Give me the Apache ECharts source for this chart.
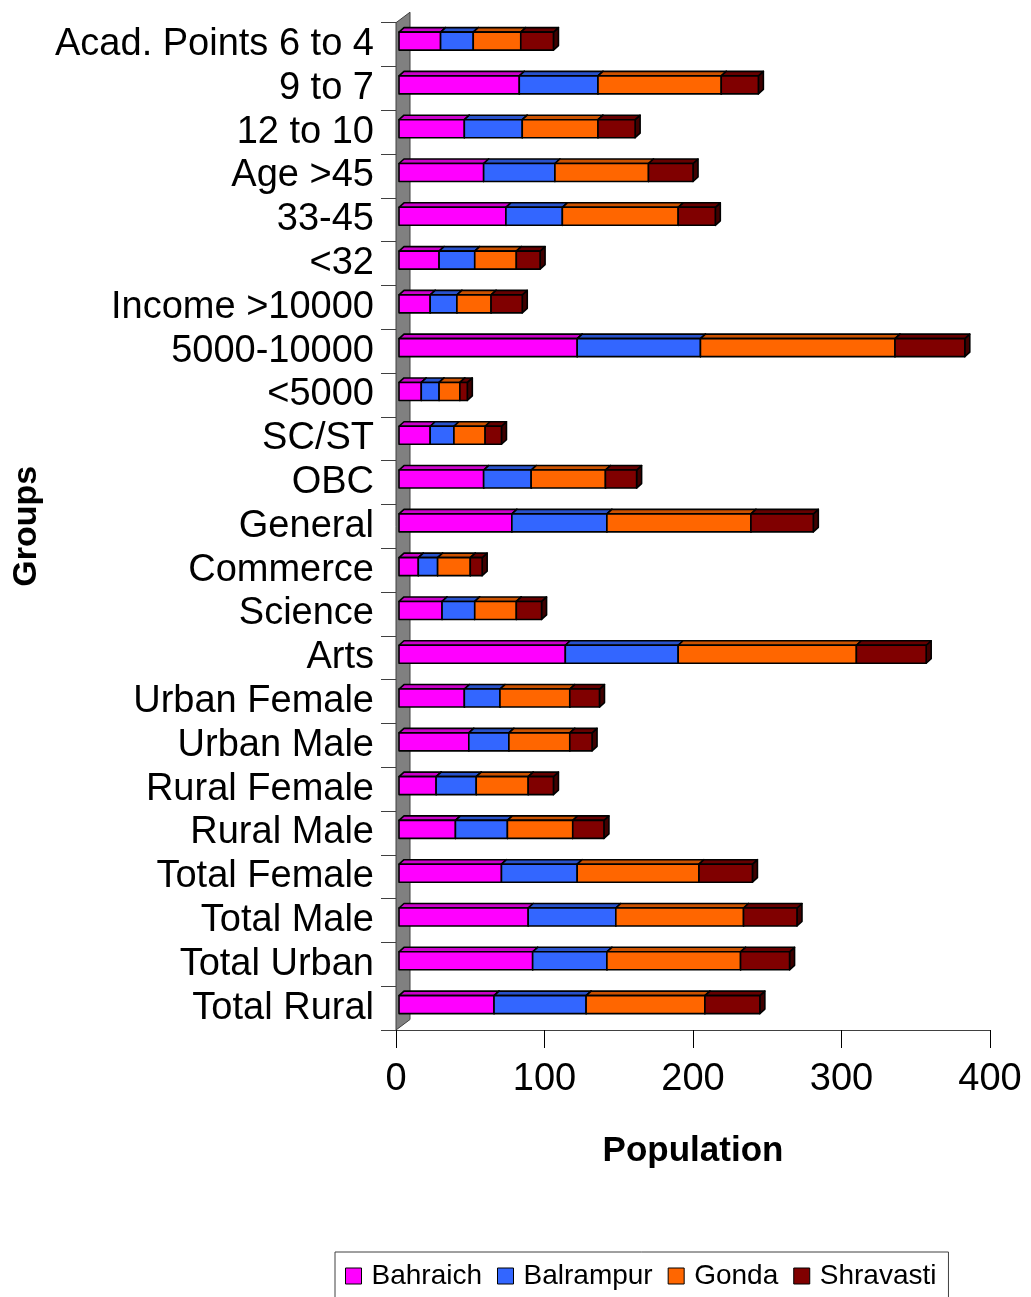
<!DOCTYPE html>
<html>
<head>
<meta charset="utf-8">
<script src="https://cdn.jsdelivr.net/npm/echarts@6/dist/echarts.min.js"></script>
<style>
  html, body { margin: 0; padding: 0; background: #fff; }
  #chart { width: 1031px; height: 1297px; }
</style>
</head>
<body>
<div id="chart"></div>
<script>
// Groups, listed top to bottom
const categories = [
  'Acad. Points 6 to 4', '9 to 7', '12 to 10',
  'Age >45', '33-45', '<32',
  'Income >10000', '5000-10000', '<5000',
  'SC/ST', 'OBC', 'General',
  'Commerce', 'Science', 'Arts',
  'Urban Female', 'Urban Male', 'Rural Female', 'Rural Male',
  'Total Female', 'Total Male', 'Total Urban', 'Total Rural'
];

// Population per district, same order as categories
const bahraich  = [28, 81, 44, 57, 72, 27, 21, 120, 15, 21, 57, 76, 13, 29, 112, 44, 47, 25, 38, 69, 87, 90, 64];
const balrampur = [22, 53, 39, 48, 38, 24, 18,  83, 12, 16, 32, 64, 13, 22,  76, 24, 27, 27, 35, 51, 59, 50, 62];
const gonda     = [32, 83, 51, 63, 78, 28, 23, 131, 14, 21, 50, 97, 22, 28, 120, 47, 41, 35, 44, 82, 86, 90, 80];
const shravasti = [22, 25, 25, 30, 25, 16, 21,  47,  5, 11, 21, 42,  8, 17,  47, 20, 15, 17, 21, 36, 36, 33, 37];

const seriesNames = ['Bahraich', 'Balrampur', 'Gonda', 'Shravasti'];
const seriesValues = [bahraich, balrampur, gonda, shravasti];

// front / top / side face colours of each district's box
const faceColors = [
  { front: '#FF00FF', top: '#CC00CC', side: '#990099' },
  { front: '#3366FF', top: '#2952CC', side: '#1F3D99' },
  { front: '#FF6600', top: '#CC5200', side: '#993D00' },
  { front: '#800000', top: '#660000', side: '#400000' }
];

const xTicks = [0, 100, 200, 300, 400];

// pseudo-3D box geometry (pixels)
const BOX_H = 18;      // height of the front face
const FRONT_DX = 3;    // front face offset from the floor axis
const SHIFT_Y = -3.5;  // front face offset from the band centre
const DEPTH_X = 5;     // depth of the box
const DEPTH_Y = -4.5;
const WALL_DX = 14, WALL_DY = -10.5;

const font = "'Liberation Sans', Arial, sans-serif";

// stacked segments: [categoryIndex, start, end]
function stackedData(k) {
  return categories.map((c, i) => {
    let start = 0;
    for (let j = 0; j < k; j++) start += seriesValues[j][i];
    return [i, start, start + seriesValues[k][i]];
  });
}

function makeBoxRenderer(colors) {
  return function (params, api) {
    const cat = api.value(0);
    const p0 = api.coord([api.value(1), cat]);
    const p1 = api.coord([api.value(2), cat]);
    const x0 = p0[0] + FRONT_DX, x1 = p1[0] + FRONT_DX;
    const yc = p0[1] + SHIFT_Y;
    const yt = yc - BOX_H / 2, yb = yc + BOX_H / 2;
    const line = { stroke: '#000', lineWidth: 1.6, lineJoin: 'round' };
    return {
      type: 'group',
      children: [
        { type: 'polygon',
          shape: { points: [[x1, yt], [x1 + DEPTH_X, yt + DEPTH_Y], [x1 + DEPTH_X, yb + DEPTH_Y], [x1, yb]] },
          style: Object.assign({ fill: colors.side }, line) },
        { type: 'polygon',
          shape: { points: [[x0, yt], [x0 + DEPTH_X, yt + DEPTH_Y], [x1 + DEPTH_X, yt + DEPTH_Y], [x1, yt]] },
          style: Object.assign({ fill: colors.top }, line) },
        { type: 'rect',
          shape: { x: x0, y: yt, width: x1 - x0, height: yb - yt },
          style: Object.assign({ fill: colors.front }, line) }
      ]
    };
  };
}

// grey back wall standing on the category axis
function renderWall(params, api) {
  const cs = params.coordSys;
  const x = cs.x, top = cs.y, bot = cs.y + cs.height;
  return {
    type: 'polygon',
    shape: { points: [[x, top], [x + WALL_DX, top + WALL_DY], [x + WALL_DX, bot + WALL_DY], [x, bot]] },
    style: { fill: '#808080', stroke: '#404040', lineWidth: 1 }
  };
}

const series = [{
  type: 'custom',
  name: 'wall',
  silent: true,
  renderItem: renderWall,
  data: [[0, 0, 0]],
  encode: { y: 0, x: [1, 2] },
  z: 1
}];

seriesNames.forEach((name, k) => {
  series.push({
    type: 'custom',
    name: name,
    renderItem: makeBoxRenderer(faceColors[k]),
    itemStyle: { color: faceColors[k].front, borderColor: '#000', borderWidth: 1 },
    data: stackedData(k),
    encode: { y: 0, x: [1, 2] },
    z: 2
  });
});

const chart = echarts.init(document.getElementById('chart'), null, { renderer: 'canvas' });
chart.setOption({
  animation: false,
  backgroundColor: '#fff',
  grid: { left: 396, top: 22.7, right: 41, bottom: 267, containLabel: false },
  xAxis: {
    type: 'value',
    min: xTicks[0],
    max: xTicks[xTicks.length - 1],
    interval: 100,
    name: 'Population',
    nameLocation: 'middle',
    nameGap: 104,
    nameTextStyle: { fontFamily: font, fontSize: 35, fontWeight: 'bold', color: '#000' },
    axisLine: { show: true, lineStyle: { color: '#404040', width: 1 } },
    axisTick: { show: true, length: 18, lineStyle: { color: '#000' } },
    axisLabel: { fontFamily: font, fontSize: 38, color: '#000', margin: 31 },
    splitLine: { show: false }
  },
  yAxis: {
    type: 'category',
    data: categories,
    inverse: true,
    name: 'Groups',
    nameLocation: 'middle',
    nameGap: 352,
    nameRotate: 90,
    nameTextStyle: { fontFamily: font, fontSize: 34, fontWeight: 'bold', color: '#000' },
    axisLine: { show: true, lineStyle: { color: '#404040', width: 1 } },
    axisTick: { show: true, length: 15, lineStyle: { color: '#404040' } },
    axisLabel: { fontFamily: font, fontSize: 38, color: '#000', margin: 22, interval: 0, padding: [5, 0, 0, 0] },
    splitLine: { show: false }
  },
  legend: {
    data: seriesNames,
    left: 335,
    top: 1252,
    orient: 'horizontal',
    icon: 'rect',
    itemWidth: 16,
    itemHeight: 16,
    itemGap: 15,
    padding: [10, 12, 10, 10],
    borderColor: '#404040',
    borderWidth: 1,
    itemStyle: { borderColor: '#000', borderWidth: 1 },
    textStyle: { fontFamily: font, fontSize: 28, color: '#000', padding: [0, 0, 0, 5] }
  },
  series: series
});
</script>
</body>
</html>
